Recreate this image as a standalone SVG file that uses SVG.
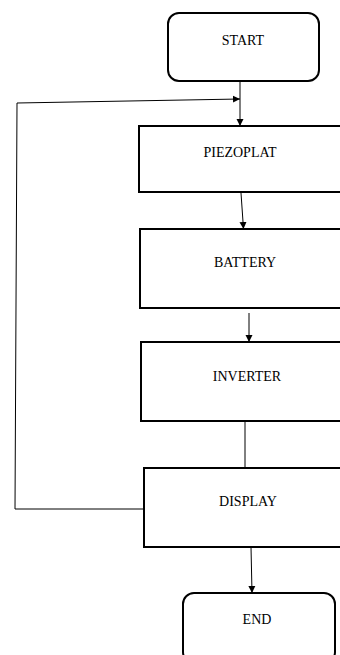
<svg xmlns="http://www.w3.org/2000/svg" width="340" height="655" viewBox="0 0 340 655">
<style>
.box{fill:#fff;stroke:#000;stroke-width:2}
.lbl{font-family:"Liberation Serif","Times New Roman",serif;font-size:14px;fill:#000;text-anchor:middle}
.ln{fill:none;stroke:#000;stroke-width:1}
.ar{marker-end:url(#ah)}
</style>
<defs>
<marker id="ah" markerWidth="8" markerHeight="8" refX="7" refY="4" orient="auto" markerUnits="userSpaceOnUse">
<path d="M0,0.5 L7,4 L0,7.5 Z" fill="#000"/>
</marker>
</defs>
<rect width="340" height="655" fill="#fff"/>
<g id="connectors">
<line class="ln ar" x1="240" y1="81" x2="240" y2="126"/>
<polyline class="ln ar" points="147,509 15,509 17,103 240,99"/>
<line class="ln ar" x1="241" y1="193" x2="243.5" y2="229"/>
<line class="ln ar" x1="249" y1="313" x2="249" y2="342"/>
<line class="ln" x1="245" y1="421" x2="245" y2="468"/>
<line class="ln ar" x1="251" y1="547" x2="252" y2="593"/>
</g>
<g id="start">
<rect class="box" x="168" y="13" width="151" height="68" rx="11"/>
<text class="lbl" x="243" y="45">START</text>
</g>
<g id="piezoplat">
<rect class="box" x="139" y="126" width="210" height="66"/>
<text class="lbl" x="240" y="157">PIEZOPLAT</text>
</g>
<g id="battery">
<rect class="box" x="140" y="229" width="210" height="79"/>
<text class="lbl" x="245" y="267">BATTERY</text>
</g>
<g id="inverter">
<rect class="box" x="141" y="342" width="210" height="79"/>
<text class="lbl" x="247" y="381">INVERTER</text>
</g>
<g id="display">
<rect class="box" x="144" y="468" width="210" height="79"/>
<text class="lbl" x="248" y="506">DISPLAY</text>
</g>
<g id="end">
<rect class="box" x="183" y="593" width="152" height="70" rx="11"/>
<text class="lbl" x="257" y="624">END</text>
</g>
</svg>
